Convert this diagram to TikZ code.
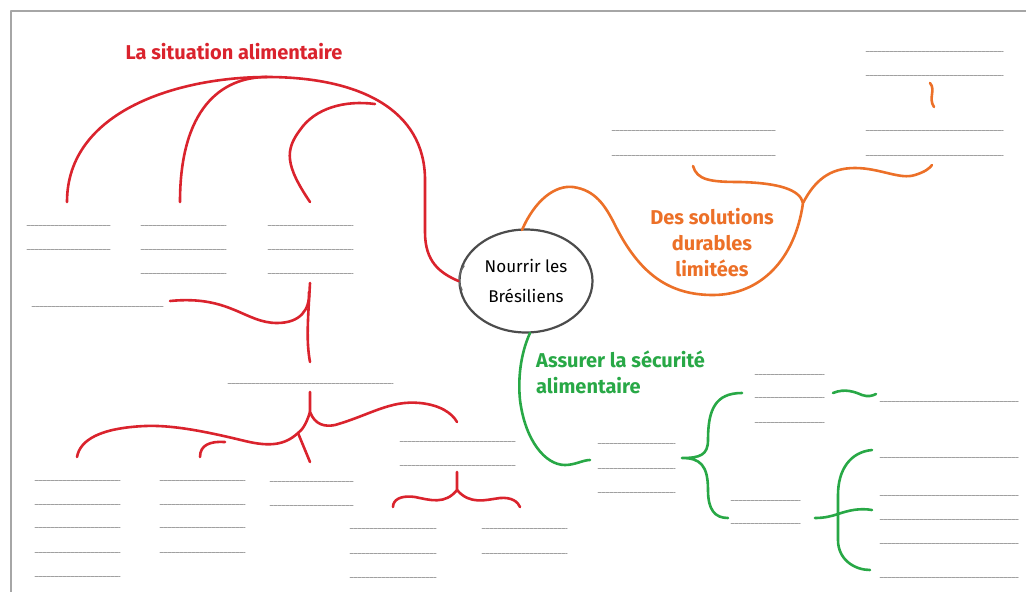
\documentclass[tikz,border=0pt]{standalone}
\usepackage{fontspec}
\setmainfont{Fira Sans}
\usetikzlibrary{shapes.geometric}
\definecolor{rouge}{RGB}{218,35,45}
\definecolor{orange}{RGB}{236,112,40}
\definecolor{vert}{RGB}{40,168,70}
\definecolor{trait}{RGB}{160,160,160}
\begin{document}
\begin{tikzpicture}[x=1pt,y=-1pt, line join=round, line cap=round,
	brin/.style={line width=2.6pt},
	pointilles/.style={trait, line width=1pt, dash pattern=on 3pt off 1pt},
	titre/.style={font=\bfseries\fontsize{20}{26}\selectfont, align=center, inner sep=0pt}]
	\useasboundingbox (0,0) rectangle (1026,592);
	\draw[gray!70, line width=1.6pt] (1030,11) -- (11,11) -- (11,600);
	% centre
	\node[ellipse, draw=black!70, line width=2.2pt, minimum width=133, minimum height=103, align=center,
		font=\fontsize{17}{30}\selectfont] (centre) at (526,281) {Nourrir les\\Brésiliens};
	\draw[black!60, line width=1.4pt] (464,266) .. controls (458,274) and (458,282) .. (462,290);
	% titres
	\node[titre, rouge] (situation) at (234,52) {La situation alimentaire};
	\node[titre, orange] (solutions) at (712,243) {Des solutions\\durables\\limitées};
	\node[titre, vert, align=left, anchor=north west] (securite) at (536,351) {Assurer la sécurité\\alimentaire};
	% lignes a remplir
	\foreach \xa/\xb/\y in {27/111/225, 27/111/249,
		141/226/225, 141/226/249, 141/226/273, 268/353/225, 268/353/249, 268/353/273,
		32/163/306, 228/393/383, 400/516/441, 400/516/465,
		35/120/480, 35/120/504, 35/120/527, 35/120/552, 35/120/576,
		160/245/480, 160/245/504, 160/245/527, 160/245/552, 270/353/481, 270/353/505,
		350/436/528, 350/436/553, 350/436/577, 482/567/528, 482/567/553,
		612/776/130, 612/776/155, 866/1003/51, 866/1003/75, 866/1003/130, 866/1003/155,
		755/824/374, 755/824/397, 755/824/422, 880/1018/401,
		598/675/443, 598/675/468, 598/675/492, 731/800/500, 731/800/523,
		880/1018/457, 880/1018/495, 880/1018/519, 880/1018/543, 880/1018/577}
		\draw[pointilles] (\xa,\y) -- (\xb,\y);
	% branche rouge
	\coordinate (r0) at (centre.west);
	\coordinate (sommet) at (267,77);
	\draw[brin, rouge] (67,202) .. controls (67,110) and (180,77) .. (sommet)
		.. controls (360,77) and (425,110) .. (425,180) -- (425,232)
		.. controls (425,262) and (440,273) .. (r0);
	\draw[brin, rouge] (180,202) .. controls (180,110) and (220,77) .. (sommet);
	\draw[brin, rouge] (310,202) .. controls (285,165) and (285,150) .. (300,130)
		.. controls (315,108) and (345,100) .. (375,104);
	\draw[brin, rouge] (310,283) .. controls (308,320) and (306,340) .. (310,362);
	\draw[brin, rouge] (170,301) .. controls (230,295) and (245,323) .. (277,323)
		.. controls (300,323) and (310,310) .. (309,292);
	\coordinate (fourche) at (310,412);
	\coordinate (coude) at (298,433);
	\draw[brin, rouge] (310,392) -- (fourche)
		.. controls (315,425) and (325,427) .. (335,425)
		.. controls (370,415) and (390,400) .. (420,403)
		.. controls (440,405) and (452,413) .. (457,422);
	\draw[brin, rouge] (fourche) .. controls (306,425) and (302,430) .. (coude)
		.. controls (285,445) and (270,447) .. (245,441)
		.. controls (200,430) and (170,425) .. (145,426)
		.. controls (100,428) and (80,440) .. (77,457);
	\draw[brin, rouge] (coude) -- (310,462);
	\draw[brin, rouge] (200,457) .. controls (200,445) and (210,441) .. (225,442);
	\draw[brin, rouge] (457,472) -- (457,490)
		.. controls (445,505) and (430,500) .. (415,497)
		.. controls (400,495) and (393,500) .. (393,507);
	\draw[brin, rouge] (457,490) .. controls (470,505) and (485,500) .. (500,498)
		.. controls (512,497) and (518,502) .. (520,507);
	% branche orange
	\coordinate (o1) at (803,203);
	\draw[brin, orange] (522,230) .. controls (535,200) and (555,185) .. (573,187)
		.. controls (595,190) and (605,205) .. (615,225)
		.. controls (640,275) and (670,295) .. (713,295)
		.. controls (760,295) and (795,260) .. (o1)
		.. controls (815,180) and (830,168) .. (855,168)
		.. controls (880,168) and (900,180) .. (915,175)
		.. controls (925,172) and (930,168) .. (932,165);
	\draw[brin, orange] (693,166) .. controls (697,180) and (710,182) .. (740,182)
		.. controls (780,183) and (800,190) .. (o1);
	\draw[brin, orange] (930,83) .. controls (936,90) and (928,98) .. (934,107);
	% branche verte
	\draw[brin, vert] (530,333) .. controls (520,355) and (518,380) .. (520,400)
		.. controls (525,440) and (545,465) .. (565,465)
		.. controls (575,465) and (583,460) .. (590,460);
	\draw[brin, vert] (742,393) .. controls (715,393) and (708,410) .. (708,440)
		.. controls (708,455) and (700,458) .. (682,458)
		.. controls (700,458) and (708,465) .. (708,490)
		.. controls (708,510) and (715,518) .. (728,518);
	\draw[brin, vert] (833,393) .. controls (845,388) and (855,392) .. (862,395)
		.. controls (868,397) and (872,396) .. (876,394);
	\draw[brin, vert] (872,450) .. controls (850,452) and (838,470) .. (838,495)
		-- (838,540) .. controls (838,560) and (855,570) .. (870,570);
	\draw[brin, vert] (815,518) .. controls (825,518) and (832,516) .. (838,514)
		.. controls (850,510) and (860,508) .. (872,510);
\end{tikzpicture}
\end{document}
